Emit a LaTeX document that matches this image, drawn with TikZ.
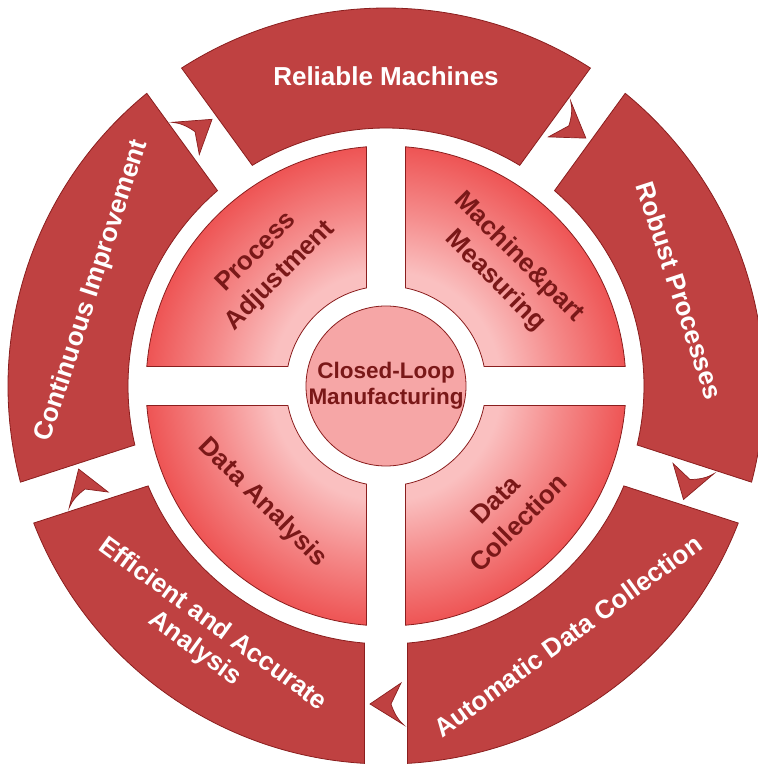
\documentclass[tikz,border=0pt]{standalone}
\usepackage{fontspec}
\setmainfont{Liberation Sans}
\definecolor{ringred}{HTML}{BF4141}
\definecolor{edgered}{HTML}{8A1E1E}
\definecolor{textred}{HTML}{7A1818}
\definecolor{qpale}{HTML}{FAC0C0}
\definecolor{qmid}{HTML}{F58C8C}
\definecolor{qdeep}{HTML}{EE5555}
\definecolor{hubpink}{HTML}{F6A6A6}
\pgfdeclareradialshading{quadshade}{\pgfpoint{0bp}{0bp}}{color(0bp)=(qpale); color(12bp)=(qpale); color(18bp)=(qmid); color(25bp)=(qdeep); color(50bp)=(qdeep)}
\tikzset{
  ringseg/.style={fill=ringred, draw=edgered, line width=0.8pt, line join=miter},
  quadseg/.style={shading=quadshade, draw=edgered, line width=0.8pt},
  hubdisc/.style={fill=hubpink, draw=edgered, line width=0.8pt},
  outertext/.style={text=white, font=\bfseries\fontsize{26}{30}\selectfont, align=center, inner sep=0pt},
  innertext/.style={text=textred, font=\bfseries\fontsize{26}{33}\selectfont, align=center, inner sep=0pt},
  hubtext/.style={text=textred, font=\bfseries\fontsize{22.5}{26}\selectfont, align=center, inner sep=0pt},
  arrowshape/.style={fill=ringred, draw=edgered, line width=0.7pt, line join=miter},
  cyclearrow/.pic={\filldraw[arrowshape] (16,0) -- (-15,-21) -- (-5,0) .. controls (-8,9) and (-12,16) .. (-18,21) -- cycle;}
}
\begin{document}
\begin{tikzpicture}[x=1pt, y=1pt]
\useasboundingbox (-386,-379) rectangle (371,386);
\fill[white] (-386,-379) rectangle (371,386);
% outer ring segments
\foreach \c in {90,18,-54,-126,-198} {
  \filldraw[ringseg] ({\c-32.74}:378) arc[start angle={\c-32.74}, end angle={\c+32.74}, radius=378]
    -- ({\c+31.22}:258) arc[start angle={\c+31.22}, end angle={\c-31.22}, radius=258] -- cycle;
}
% arrows in the gaps
\foreach \g in {126,54,-18,-90,-162} {
  \pic[rotate={\g-90}] at (\g:318) {cyclearrow};
}
% inner quadrants
\shadedraw[quadseg]
  (4.66:240) arc[start angle=4.66, end angle=85.34, radius=240] -- (78.76:100) arc[start angle=78.76, end angle=11.24, radius=100] -- cycle
  (94.66:240) arc[start angle=94.66, end angle=175.34, radius=240] -- (168.76:100) arc[start angle=168.76, end angle=101.24, radius=100] -- cycle
  (184.66:240) arc[start angle=184.66, end angle=265.34, radius=240] -- (258.76:100) arc[start angle=258.76, end angle=191.24, radius=100] -- cycle
  (274.66:240) arc[start angle=274.66, end angle=355.34, radius=240] -- (348.76:100) arc[start angle=348.76, end angle=281.24, radius=100] -- cycle;
% hub
\filldraw[hubdisc] (0,0) circle (80);
% texts
\node[hubtext] (hub) at (0,0) {Closed-Loop\\Manufacturing};
\node[innertext, rotate=45] (procadj) at (134:169) {Process\\Adjustment};
\node[innertext, rotate=-45] (machmeas) at (44:168) {Machine\&part\\Measuring};
\node[innertext, rotate=-45] (dataan) at (223.5:170) {Data Analysis};
\node[innertext, rotate=45] (datacoll) at (-46:174) {Data\\Collection};
\node[outertext] (reliable) at (90:310) {Reliable Machines};
\node[outertext, rotate=-72] (robust) at (18:309) {Robust Processes};
\node[outertext, rotate=36] (autodc) at (-54:309) {Automatic Data Collection};
\node[outertext, rotate=-36] (effic) at (-126:310) {Efficient and Accurate\\Analysis};
\node[outertext, rotate=72] (contimp) at (162:309) {Continuous Improvement};
\end{tikzpicture}
\end{document}
